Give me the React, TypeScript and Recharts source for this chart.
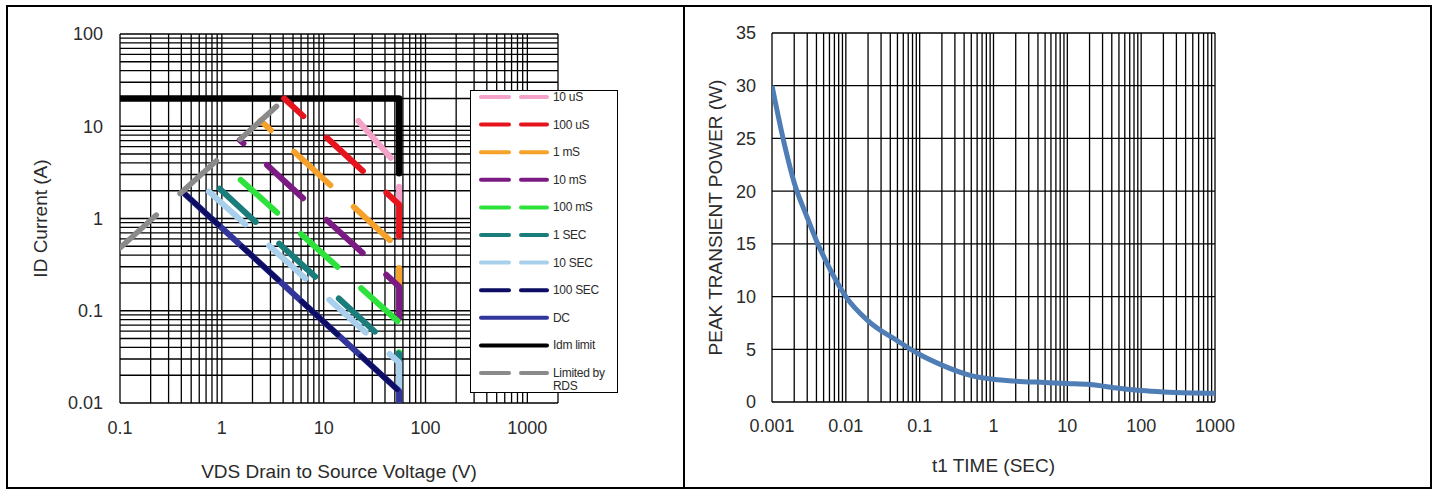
import { CartesianGrid, Label, Legend, Line, LineChart, XAxis, YAxis } from "recharts";

const FONT = "'Liberation Sans', Arial, sans-serif";
const TEXT = "#2b2b2b";

// ---- Safe operating area (left panel) ----
const VDS_TICKS = [0.1, 1, 10, 100, 1000];
const ID_TICKS = [0.01, 0.1, 1, 10, 100];

const decadeGrid = (from: number, decades: number) =>
  Array.from({ length: decades }, (_, d) => from * 10 ** d).flatMap((base) =>
    [1, 2, 3, 4, 5, 6, 7, 8, 9].map((k) => k * base)
  );

const VDS_GRID = [...decadeGrid(0.1, 4), 1000, 2000];
const ID_GRID = [...decadeGrid(0.01, 4), 100];

// points are (VDS volts, ID amps)
const IDM_LIMIT = [{ v: 0.1, i: 20 }, { v: 55, i: 20 }, { v: 55, i: 3.1 }];
const RDS_LIMIT = [{ v: 0.1, i: 0.48 }, { v: 4.2, i: 20 }];
const PULSE_10US = [{ v: 14, i: 20 }, { v: 55, i: 3.6 }, { v: 55, i: 1.42 }];
const PULSE_100US = [{ v: 4.1, i: 20 }, { v: 55, i: 1.42 }, { v: 55, i: 0.47 }];
const PULSE_1MS = [{ v: 2.4, i: 11.5 }, { v: 55, i: 0.47 }, { v: 55, i: 0.183 }];
const PULSE_10MS = [{ v: 1.5, i: 7.1 }, { v: 55, i: 0.183 }, { v: 55, i: 0.075 }];
const PULSE_100MS = [{ v: 0.91, i: 4.4 }, { v: 55, i: 0.075 }, { v: 55, i: 0.034 }];
const PULSE_1S = [{ v: 0.66, i: 3.05 }, { v: 55, i: 0.034 }, { v: 55, i: 0.0275 }];
const PULSE_10S = [{ v: 0.56, i: 2.6 }, { v: 55, i: 0.0275 }, { v: 55, i: 0.0135 }];
const PULSE_100S = [{ v: 0.41, i: 1.95 }, { v: 55, i: 0.0135 }, { v: 55, i: 0.01 }];
const DC_LIMIT = [{ v: 0.41, i: 1.95 }, { v: 55, i: 0.0135 }, { v: 55, i: 0.01 }];

type Soa = { name: string; data: { v: number; i: number }[]; color: string; dashed: boolean; offset?: number; width?: number };

// drawn in this order
const SOA_SERIES: Soa[] = [
  { name: "Idm limit", data: IDM_LIMIT, color: "#000000", dashed: false, width: 6.5 },
  { name: "10 uS", data: PULSE_10US, color: "#f4a2c8", dashed: true, offset: 51 },
  { name: "100 uS", data: PULSE_100US, color: "#e5141d", dashed: true, offset: 23 },
  { name: "1 mS", data: PULSE_1MS, color: "#f6a12a", dashed: true, offset: 35 },
  { name: "10 mS", data: PULSE_10MS, color: "#7b1a83", dashed: true, offset: 44 },
  { name: "100 mS", data: PULSE_100MS, color: "#2ee23c", dashed: true, offset: 50 },
  { name: "1 SEC", data: PULSE_1S, color: "#1b7c7c", dashed: true, offset: 59 },
  { name: "10 SEC", data: PULSE_10S, color: "#a8cfec", dashed: true, offset: 64 },
  { name: "DC", data: DC_LIMIT, color: "#32369a", dashed: false },
  { name: "100 SEC", data: PULSE_100S, color: "#0d0d63", dashed: true, offset: 0, width: 5 },
  { name: "Limited by RDS", data: RDS_LIMIT, color: "#8a8a8a", dashed: true, offset: 0, width: 5.5 },
];

const LEGEND_ORDER = ["10 uS", "100 uS", "1 mS", "10 mS", "100 mS", "1 SEC", "10 SEC", "100 SEC", "DC", "Idm limit", "Limited by RDS"];

function SoaLegend() {
  const rows = LEGEND_ORDER.map((n) => SOA_SERIES.find((s) => s.name === n)!);
  return (
    <div style={{ width: 146, height: 301, border: "1px solid #000", background: "#fff" }}>
      <svg width={146} height={301} style={{ display: "block" }}>
        {rows.map((s, k) => {
          const y = 6 + 27.6 * k;
          const lines = s.name === "Limited by RDS" ? ["Limited by", "RDS"] : [s.name];
          return (
            <g key={s.name}>
              {s.dashed ? (
                <>
                  <line x1={10} x2={38} y1={y} y2={y} stroke={s.color} strokeWidth={4} strokeLinecap="round" />
                  <line x1={50} x2={76} y1={y} y2={y} stroke={s.color} strokeWidth={4} strokeLinecap="round" />
                </>
              ) : (
                <line x1={10} x2={76} y1={y} y2={y} stroke={s.color} strokeWidth={4} strokeLinecap="round" />
              )}
              {lines.map((t, j) => (
                <text key={t} x={82} y={y + 4 + j * 13} fontSize={12} fontFamily={FONT} fill={TEXT} letterSpacing={-0.3}>
                  {t}
                </text>
              ))}
            </g>
          );
        })}
      </svg>
    </div>
  );
}

function SoaChart() {
  const tick = { fill: TEXT, fontSize: 18, fontFamily: FONT };
  return (
    <LineChart width={675} height={480} margin={{ top: 27, right: 125, bottom: 0, left: 0 }}>
      <CartesianGrid stroke="#000" strokeWidth={1.3} verticalValues={VDS_GRID} horizontalValues={ID_GRID} />
      <XAxis
        type="number"
        dataKey="v"
        scale="log"
        domain={[0.1, 2000]}
        ticks={VDS_TICKS}
        interval={0}
        allowDataOverflow
        height={84}
        tickSize={0}
        tickMargin={18}
        axisLine={false}
        tick={tick}
      >
        <Label value="VDS Drain to Source Voltage (V)" position="insideBottom" offset={9} style={{ fontSize: 19, fill: TEXT, fontFamily: FONT }} />
      </XAxis>
      <YAxis
        type="number"
        dataKey="i"
        scale="log"
        domain={[0.01, 100]}
        ticks={ID_TICKS}
        interval={0}
        allowDataOverflow
        width={112}
        tickSize={0}
        tickMargin={17}
        axisLine={false}
        tick={tick}
      >
        <Label value="ID Current (A)" angle={-90} position="insideLeft" offset={32} style={{ textAnchor: "middle", fontSize: 19, fill: TEXT, fontFamily: FONT }} />
      </YAxis>
      {SOA_SERIES.map((s) => (
        <Line
          key={s.name}
          name={s.name}
          data={s.data}
          dataKey="i"
          type="linear"
          stroke={s.color}
          strokeWidth={s.width ?? 6}
          strokeLinecap="round"
          strokeLinejoin="round"
          strokeDasharray={s.dashed ? "49 32" : undefined}
          strokeDashoffset={s.dashed ? s.offset : undefined}
          dot={false}
          activeDot={false}
          isAnimationActive={false}
        />
      ))}
      <Legend
        layout="vertical"
        align="center"
        verticalAlign="middle"
        content={() => <SoaLegend />}
        wrapperStyle={{ left: 462, top: 83, width: 148, height: 303 }}
      />
    </LineChart>
  );
}

// ---- Peak transient power (right panel) ----
const TIME_TICKS = [0.001, 0.01, 0.1, 1, 10, 100, 1000];
const POWER_TICKS = [0, 5, 10, 15, 20, 25, 30, 35];
const TIME_GRID = [...decadeGrid(0.001, 6), 1000];

const TIME_S = [0.001, 0.0015, 0.002, 0.003, 0.004, 0.006, 0.01, 0.02, 0.05, 0.1, 0.2, 0.5, 1, 2, 5, 10, 20, 50, 100, 200, 500, 1000];
const PEAK_W = [30, 24.2, 20.8, 17.5, 15.3, 12.7, 10.0, 7.7, 5.8, 4.5, 3.5, 2.5, 2.15, 1.98, 1.85, 1.75, 1.65, 1.3, 1.08, 0.95, 0.86, 0.82];

const TRANSIENT = TIME_S.map((t, k) => ({ t, p: PEAK_W[k] }));

function TransientChart() {
  const tick = { fill: TEXT, fontSize: 18, fontFamily: FONT };
  return (
    <LineChart width={745} height={480} margin={{ top: 26, right: 215, bottom: 0, left: 0 }}>
      <CartesianGrid stroke="#000" strokeWidth={1.3} verticalValues={TIME_GRID} horizontalValues={POWER_TICKS} />
      <XAxis
        type="number"
        dataKey="t"
        scale="log"
        domain={[0.001, 1000]}
        ticks={TIME_TICKS}
        interval={0}
        allowDataOverflow
        height={85}
        tickSize={0}
        tickMargin={17}
        axisLine={false}
        tick={tick}
      >
        <Label value="t1 TIME (SEC)" position="insideBottom" offset={15} style={{ fontSize: 19, fill: TEXT, fontFamily: FONT }} />
      </XAxis>
      <YAxis
        type="number"
        domain={[0, 35]}
        ticks={POWER_TICKS}
        interval={0}
        width={87}
        tickSize={0}
        tickMargin={16}
        axisLine={false}
        tick={tick}
      >
        <Label value="PEAK TRANSIENT POWER (W)" angle={-90} position="insideLeft" offset={30} style={{ textAnchor: "middle", fontSize: 19, fill: TEXT, fontFamily: FONT }} />
      </YAxis>
      <Line
        data={TRANSIENT}
        dataKey="p"
        type="monotone"
        stroke="#4f7db5"
        strokeWidth={5}
        dot={false}
        activeDot={false}
        isAnimationActive={false}
      />
    </LineChart>
  );
}

export default function App() {
  return (
    <div style={{ position: "fixed", left: 0, top: 0, width: 1437, height: 489, background: "#fff" }}>
      <div style={{ position: "absolute", left: 6, top: 5, width: 1422, height: 480, border: "2px solid #000" }} />
      <div style={{ position: "absolute", left: 683, top: 5, width: 2, height: 484, background: "#000" }} />
      <div style={{ position: "absolute", left: 8, top: 7 }}>
        <SoaChart />
      </div>
      <div style={{ position: "absolute", left: 685, top: 7 }}>
        <TransientChart />
      </div>
    </div>
  );
}
